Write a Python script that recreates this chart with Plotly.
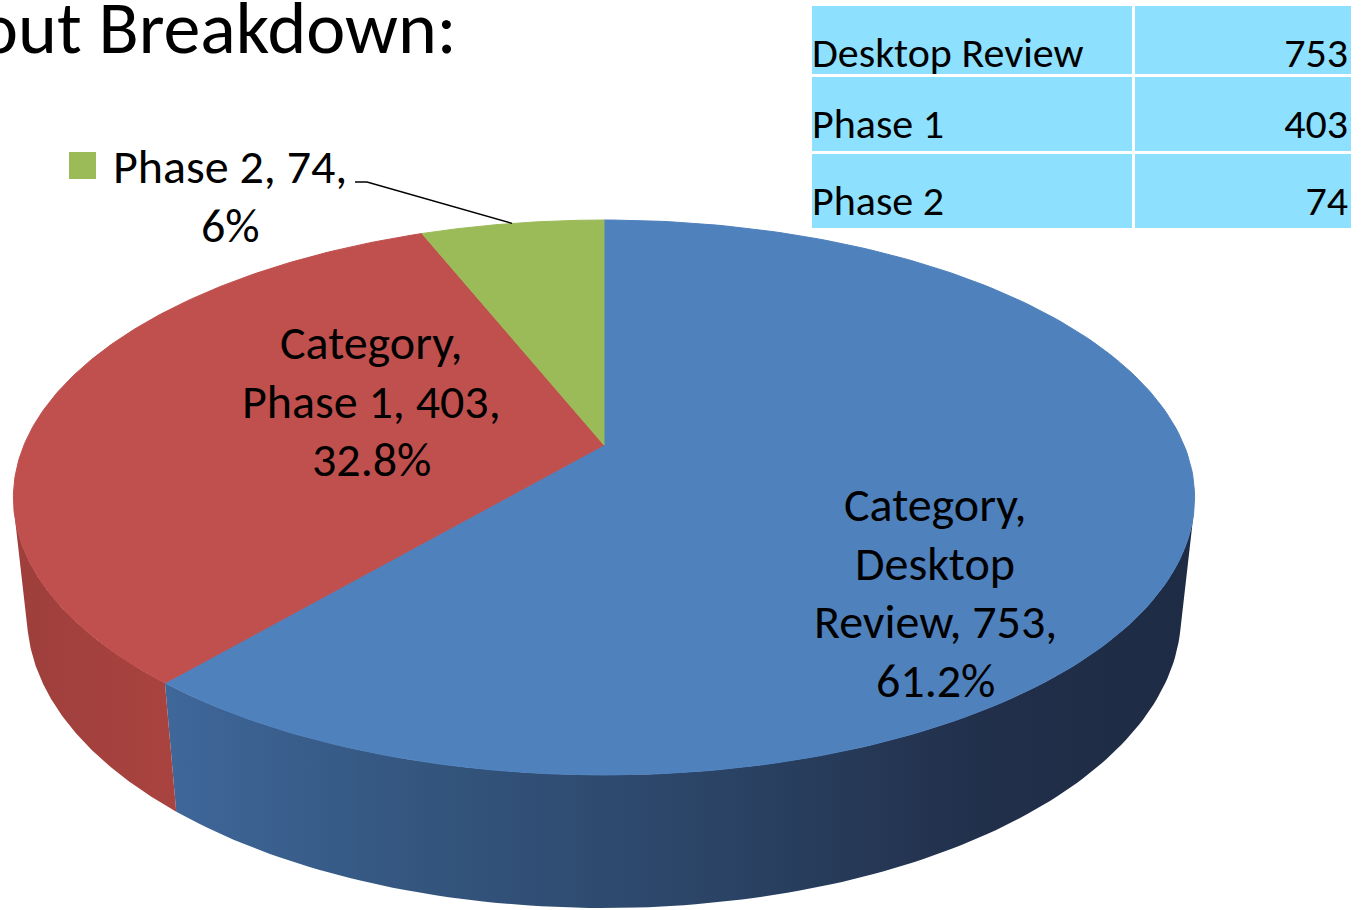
import numpy as np
import plotly.graph_objects as go

# ---------------- data ----------------
categories = ["Desktop Review", "Phase 1", "Phase 2"]
values = [753, 403, 74]
pct_text = ["61.2%", "32.8%", "6%"]
label_prefix = ["Category, ", "Category, ", ""]
label_wrap = [[1, 1, 2, 1], [1, 3, 1], [3, 1]]          # words per label line
value_text = [str(v) for v in values]

# ---------------- style ----------------
top_colors = ["#4F81BD", "#C0504D", "#9BBB59"]
wall_scales = [
    [[0, "#3F679A"], [0.24, "#34567F"], [0.53, "#2B4466"], [0.8, "#212F4A"], [1, "#1E2B44"]],
    [[0, "#9E3F3C"], [1, "#A9433F"]],
    [[0, "#7E9A46"], [1, "#7E9A46"]],
]
FONT = "Carlito, Calibri, Lato, sans-serif"
W, H_PX = 1364, 910

# perspective projection of the 3-D pie (screen pixels)
CX, CY = 604.0, 445.0
F, DIST = 2720.0, 4.69
SIN_P = 0.4613
COS_P = np.sqrt(1 - SIN_P ** 2)
DEPTH = 0.23


def project(X, Y, Z):
    vy = Y + DIST * COS_P
    vz = Z - DIST * SIN_P
    zc = vy * COS_P - vz * SIN_P
    yc = vy * SIN_P + vz * COS_P
    return CX + F * X / zc, CY - F * yc / zc


total = float(sum(values))
frac = np.array(values) / total
bounds = np.concatenate([[0], np.cumsum(frac)]) * 2 * np.pi   # clockwise from 12 o'clock

# visible front wall range (silhouette tangent)
t_sil = np.arccos(-1.0 / (DIST * COS_P))
vis_lo, vis_hi = t_sil, 2 * np.pi - t_sil

fig = go.Figure()

# side walls
for i in range(len(values)):
    lo, hi = max(bounds[i], vis_lo), min(bounds[i + 1], vis_hi)
    if hi <= lo:
        continue
    t = np.linspace(lo, hi, 120)
    xt, yt = project(np.sin(t), np.cos(t), 0.0)
    xb, yb = project(np.sin(t[::-1]), np.cos(t[::-1]), -DEPTH)
    xs = np.concatenate([xt, xb, xt[:1]])
    ys = np.concatenate([yt, yb, yt[:1]])
    fig.add_trace(go.Scatter(
        x=xs, y=ys, mode="lines", fill="toself",
        fillgradient=dict(type="horizontal", colorscale=wall_scales[i]),
        line=dict(width=0), hoverinfo="skip", showlegend=False))

# top faces
for i in range(len(values)):
    t = np.linspace(bounds[i], bounds[i + 1], 200)
    xa, ya = project(np.sin(t), np.cos(t), 0.0)
    x0, y0 = project(0.0, 0.0, 0.0)
    xs = np.concatenate([[x0], xa, [x0]])
    ys = np.concatenate([[y0], ya, [y0]])
    fig.add_trace(go.Scatter(
        x=xs, y=ys, mode="lines", fill="toself", fillcolor=top_colors[i],
        line=dict(width=1, color=top_colors[i]), hoverinfo="skip",
        name=categories[i], showlegend=False))

# data labels (one annotation per line for Office-like line spacing)
label_pos = [(935, 520), (371, 358), (230, 182)]
LINE_H = 58.5
LBL_SIZE = 48
annotations = []
for i in range(len(values)):
    words = (f"{label_prefix[i]}{categories[i]}, {values[i]}, {pct_text[i]}").split()
    k = 0
    for j, n in enumerate(label_wrap[i]):
        line = " ".join(words[k:k + n])
        k += n
        bx, by = label_pos[i]
        annotations.append(dict(
            x=bx, y=by + j * LINE_H - 0.32 * LBL_SIZE, xref="x", yref="y",
            text=line, showarrow=False, xanchor="center", yanchor="middle",
            font=dict(family=FONT, size=LBL_SIZE, color="black")))

# legend key + leader line for the small slice
gi = 2
mid = 0.5 * (bounds[gi] + bounds[gi + 1])
ex, ey = project(np.sin(mid), np.cos(mid), 0.0)
fig.add_trace(go.Scatter(x=[82.5], y=[165.5], mode="markers",
                         marker=dict(symbol="square", size=27, color=top_colors[gi]),
                         hoverinfo="skip", showlegend=False))
fig.add_trace(go.Scatter(x=[355, 367, ex], y=[182, 182, ey], mode="lines",
                         line=dict(color="black", width=1.3),
                         hoverinfo="skip", showlegend=False))

# title (cut off at left edge as in the slide)
TITLE_SIZE = 74
annotations.append(dict(
    x=459, y=52 - 0.32 * TITLE_SIZE, xref="x", yref="y", text="out Breakdown:",
    showarrow=False, xanchor="right", yanchor="middle",
    font=dict(family=FONT, size=TITLE_SIZE, color="black")))

# data table: cell backgrounds (first data row drawn as header row, same styling)
TBL_FILL = "#8DE1FF"
fig.add_trace(go.Table(
    domain=dict(x=[810 / W, 1352 / W], y=[1 - 232 / H_PX, 1 - 4 / H_PX]),
    columnwidth=[323, 219],
    header=dict(values=[[""], [""]], height=71, fill=dict(color=TBL_FILL),
                line=dict(color="white", width=3), font=dict(size=12)),
    cells=dict(values=[["", ""], ["", ""]], height=77,
               fill=dict(color=TBL_FILL), line=dict(color="white", width=3),
               font=dict(size=12)),
))
# data table: text layer (offset so the text sits low in each cell as in the slide)
tbl_font = dict(family=FONT, size=42, color="black")
TXT_DY = 23
fig.add_trace(go.Table(
    domain=dict(x=[804 / W, 1356 / W], y=[1 - (232 + TXT_DY) / H_PX, 1 - (4 + TXT_DY) / H_PX]),
    columnwidth=[329, 223],
    header=dict(values=[[categories[0]], [value_text[0]]], height=71,
                align=["left", "right"], fill=dict(color="rgba(0,0,0,0)"),
                line=dict(width=0, color="rgba(0,0,0,0)"), font=tbl_font),
    cells=dict(values=[categories[1:], value_text[1:]], height=77,
               align=["left", "right"], fill=dict(color="rgba(0,0,0,0)"),
               line=dict(width=0, color="rgba(0,0,0,0)"), font=tbl_font),
))

fig.update_layout(
    width=W, height=H_PX, margin=dict(l=0, r=0, t=0, b=0),
    paper_bgcolor="white", plot_bgcolor="white",
    xaxis=dict(range=[0, W], visible=False, fixedrange=True),
    yaxis=dict(range=[H_PX, 0], visible=False, fixedrange=True),
    annotations=annotations, showlegend=False,
)

fig.write_html("out.html")
